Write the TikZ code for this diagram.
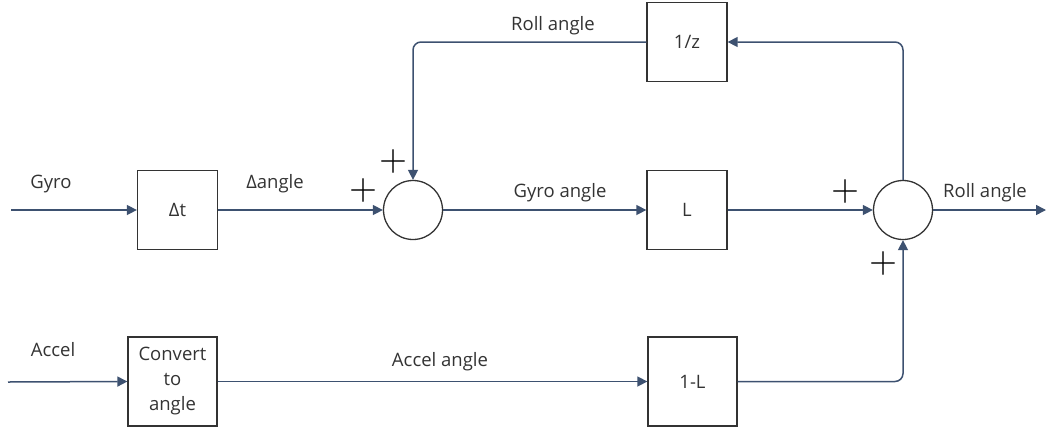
\documentclass[tikz,border=0pt]{standalone}
\usepackage{fontspec}
\setmainfont{Open Sans}
\newfontfamily\plusfont{lmroman10-regular.otf}
\usetikzlibrary{arrows.meta,positioning}
\definecolor{wire}{HTML}{3D5170}
\definecolor{ink}{HTML}{333333}
\tikzset{
  blockbox/.style={rectangle, draw=ink, line width=1.3pt, minimum width=80pt, minimum height=79pt, inner sep=0pt, text=ink},
  bigbox/.style={blockbox, minimum width=89pt, minimum height=89pt, align=center},
  sumnode/.style={circle, draw=ink, line width=1.3pt, minimum size=59pt, inner sep=0pt},
  sig/.style={text=ink},
  plus/.style={font=\plusfont\fontsize{36}{36}\selectfont, inner sep=0pt},
  wireline/.style={draw=wire, line width=1.5pt, -{Triangle[length=10pt,width=10pt]}}
}
\begin{document}
\begin{tikzpicture}[x=1pt, y=-1pt, font=\fontsize{18.5}{25}\selectfont]
\useasboundingbox (0,0) rectangle (1046,429);
% blocks
\node[blockbox] (dt) at (177.5,210) {Δt};
\node[sumnode] (sumA) at (413,210) {};
\node[blockbox] (gain) at (687,210) {L};
\node[sumnode] (sumB) at (903,210) {};
\node[blockbox] (delay) at (687,42) {1/z};
\node[bigbox] (conv) at (172.5,381.5) {Convert\\to\\angle};
\node[bigbox] (gainB) at (692.5,381.5) {1-L};
% free ends
\coordinate (gyroIn) at (11,210);
\coordinate (accelIn) at (8,382);
\coordinate (rollOut) at (1046,210);
% wires
\draw[wireline] (gyroIn) -- (dt.west);
\draw[wireline] (dt.east) -- (sumA.west);
\draw[wireline] (sumA.east) -- (gain.west);
\draw[wireline] (gain.east) -- (sumB.west);
\draw[wireline] (sumB.east) -- (rollOut);
\draw[wireline, rounded corners=8pt] (sumB.north) |- (delay.east);
\draw[wireline, rounded corners=8pt] (delay.west) -| (sumA.north);
\draw[wireline] (accelIn) -- (conv.west);
\draw[wireline] (conv.east) -- (gainB.west);
\draw[wireline, rounded corners=8pt] (gainB.east) -| (sumB.south);
% signal labels
\node[sig] (lGyro) at (51,184) {Gyro};
\node[sig] (lDangle) at (275,184) {Δangle};
\node[sig] (lGyroAngle) at (560,193) {Gyro angle};
\node[sig] (lRollTop) at (553,26) {Roll angle};
\node[sig] (lRollOut) at (985,193) {Roll angle};
\node[sig] (lAccel) at (53,350) {Accel};
\node[sig] (lAccelAngle) at (440,362) {Accel angle};
% signs
\node[plus] (pA1) at (363,190) {+};
\node[plus] (pA2) at (393,161) {+};
\node[plus] (pB1) at (845,191) {+};
\node[plus] (pB2) at (883,263) {+};
\end{tikzpicture}
\end{document}
